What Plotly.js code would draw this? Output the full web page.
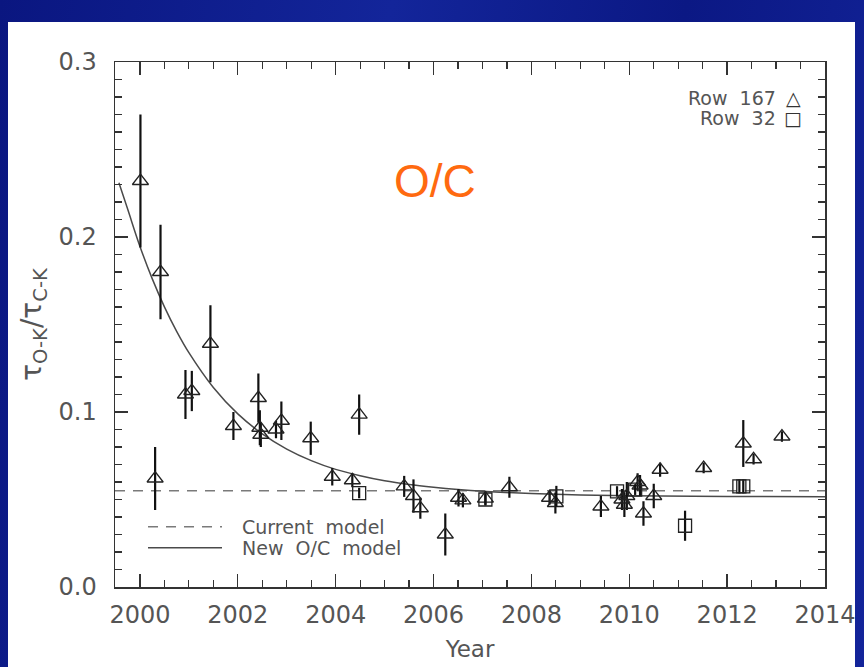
<!DOCTYPE html>
<html><head><meta charset="utf-8">
<script src="https://cdn.plot.ly/plotly-3.0.1.min.js"></script>
<style>
html,body{margin:0;padding:0;width:864px;height:667px;overflow:hidden;
background:linear-gradient(100deg,#0a1680 0%,#13259a 40%,#0b1884 70%,#13249a 100%);}
#panel{position:absolute;left:8px;top:22px;width:847px;height:645px;background:#fff;}
#chart{position:absolute;left:0;top:0;width:864px;height:667px;}
</style></head><body>
<div id="panel"></div><div id="chart"></div>
<script>
// Row 167 (triangles)
var row167Years = [2000.01, 2000.31, 2000.42, 2000.93, 2001.06, 2001.44, 2001.91, 2002.42, 2002.45, 2002.47, 2002.78, 2002.89,
  2003.49, 2003.93, 2004.34, 2004.48, 2005.40, 2005.59, 2005.73, 2006.24, 2006.51, 2006.60, 2007.06, 2007.55,
  2008.37, 2008.49, 2009.42, 2009.85, 2009.90, 2009.95, 2010.17, 2010.22, 2010.29, 2010.50, 2010.63, 2011.52,
  2012.33, 2012.54, 2013.12];
var row167Values = [0.232, 0.062, 0.180, 0.110, 0.112, 0.139, 0.092, 0.108, 0.091, 0.087, 0.090, 0.095,
  0.085, 0.063, 0.061, 0.0985, 0.0575, 0.052, 0.045, 0.030, 0.051, 0.0495, 0.0505, 0.057,
  0.051, 0.048, 0.046, 0.050, 0.047, 0.052, 0.060, 0.058, 0.042, 0.052, 0.067, 0.068,
  0.082, 0.073, 0.086];
var row167Errors = [0.038, 0.018, 0.027, 0.014, 0.0115, 0.022, 0.008, 0.014, 0.010, 0.007, 0.005, 0.011,
  0.0095, 0.005, 0.004, 0.0115, 0.006, 0.0095, 0.006, 0.012, 0.005, 0.004, 0.004, 0.006,
  0.004, 0.006, 0.006, 0.006, 0.007, 0.008, 0.005, 0.006, 0.007, 0.007, 0.004, 0.003,
  0.0134, 0.003, 0.003];
// Row 32 (squares)
var row32Years = [2004.48, 2007.06, 2008.51, 2009.75, 2010.12, 2011.14, 2012.25, 2012.33];
var row32Values = [0.0537, 0.050, 0.0518, 0.0546, 0.0556, 0.035, 0.0575, 0.0575];
var row32Errors = [0.003, 0.003, 0.006, 0.003, 0.003, 0.0086, 0.004, 0.004];
// Models
var currentYears = [1999.49, 2014];
var currentValues = [0.055, 0.055];
var newModelYears = [1999.57, 1999.75, 2000, 2000.25, 2000.5, 2000.75, 2001, 2001.5, 2002, 2002.5, 2003, 2003.5,
  2004, 2004.5, 2005, 2005.5, 2006, 2006.5, 2007, 2008, 2009, 2010, 2012, 2014];
var newModelValues = [0.231, 0.2158, 0.1946, 0.1762, 0.1601, 0.1461, 0.1339, 0.1140, 0.0989, 0.0875, 0.0788, 0.0722,
  0.0672, 0.0636, 0.0607, 0.0586, 0.0570, 0.0557, 0.0547, 0.0534, 0.0526, 0.0521, 0.0517, 0.0516];
var xTickVals = [2000, 2002, 2004, 2006, 2008, 2010, 2012, 2014];
var yTickVals = [0.0, 0.1, 0.2, 0.3];
var yTickText = ['0.0', '0.1', '0.2', '0.3'];

var inkColor = '#222';
var textGray = '#555';
var fontFam = 'DejaVu Sans, Liberation Sans, sans-serif';

var traces = [
  {x: currentYears, y: currentValues, mode: 'lines', name: 'Current model', showlegend: false,
   line: {color: '#7a7a7a', width: 1.6, dash: '10px,8px'}, hoverinfo: 'skip'},
  {x: newModelYears, y: newModelValues, mode: 'lines', name: 'New O/C model', showlegend: false,
   line: {color: '#4a4a4a', width: 1.5, shape: 'spline'}, hoverinfo: 'skip'},
  {x: row167Years, y: row167Values, mode: 'markers', name: 'Row 167', showlegend: false,
   marker: {symbol: 'triangle-up-open', size: 14, color: inkColor, line: {width: 1.3, color: inkColor}},
   error_y: {type: 'data', array: row167Errors, visible: true, color: '#111', thickness: 2.2, width: 0}},
  {x: row32Years, y: row32Values, mode: 'markers', name: 'Row 32', showlegend: false,
   marker: {symbol: 'square-open', size: 13, color: inkColor, line: {width: 1.3, color: inkColor}},
   error_y: {type: 'data', array: row32Errors, visible: true, color: '#111', thickness: 2.2, width: 0}}
];

var axisCommon = {
  showgrid: false, zeroline: false, showline: true, linecolor: '#333', linewidth: 1.5,
  mirror: 'ticks', ticks: 'inside', ticklen: 13, tickwidth: 1.3, tickcolor: '#333',
  tickfont: {family: fontFam, size: 24, color: textGray}
};

var layout = {
  width: 864, height: 667,
  paper_bgcolor: 'rgba(0,0,0,0)', plot_bgcolor: '#fff',
  margin: {l: 115, r: 39, t: 62, b: 80},
  showlegend: false,
  xaxis: Object.assign({}, axisCommon, {
    range: [1999.49, 2014], tickmode: 'array', tickvals: xTickVals,
    ticklabelstandoff: 6,
    minor: {dtick: 0.5, ticks: 'inside', ticklen: 7, tickcolor: '#333', tickwidth: 1.2, showgrid: false},
    title: {text: 'Year', font: {family: fontFam, size: 23, color: textGray}, standoff: 12}
  }),
  yaxis: Object.assign({}, axisCommon, {
    range: [0, 0.3], tickmode: 'array', tickvals: yTickVals, ticktext: yTickText,
    ticklabelstandoff: 12,
    minor: {dtick: 0.01, tick0: 0, ticks: 'inside', ticklen: 7, tickcolor: '#333', tickwidth: 1.2, showgrid: false},
    title: {text: 'τ<sub>O-K</sub>/τ<sub>C-K</sub>', font: {family: fontFam, size: 28, color: textGray}, standoff: 8}
  }),
  shapes: [
    {type: 'line', xref: 'paper', yref: 'paper', x0: 0.0465, x1: 0.1507, y0: 0.1148, y1: 0.1148,
     line: {color: '#7a7a7a', width: 1.6, dash: '10px,8px'}},
    {type: 'line', xref: 'paper', yref: 'paper', x0: 0.0465, x1: 0.1507, y0: 0.0748, y1: 0.0748,
     line: {color: '#4a4a4a', width: 1.5}}
  ],
  annotations: [
    {xref: 'paper', yref: 'paper', x: 0.4507, y: 0.7735, text: 'O/C', showarrow: false,
     xanchor: 'center', yanchor: 'middle', font: {family: 'Liberation Sans, Arial, sans-serif', size: 46, color: '#ff6a10'}},
    {xref: 'paper', yref: 'paper', x: 0.934, y: 0.9315, text: 'Row  167', showarrow: false,
     xanchor: 'right', yanchor: 'middle', font: {family: fontFam, size: 19, color: textGray}},
    {xref: 'paper', yref: 'paper', x: 0.955, y: 0.9315, text: '△', showarrow: false,
     xanchor: 'center', yanchor: 'middle', font: {family: fontFam, size: 19, color: '#333'}},
    {xref: 'paper', yref: 'paper', x: 0.934, y: 0.893, text: 'Row  32', showarrow: false,
     xanchor: 'right', yanchor: 'middle', font: {family: fontFam, size: 19, color: textGray}},
    {xref: 'paper', yref: 'paper', x: 0.955, y: 0.893, text: '□', showarrow: false,
     xanchor: 'center', yanchor: 'middle', font: {family: fontFam, size: 19, color: '#333'}},
    {xref: 'paper', yref: 'paper', x: 0.176, y: 0.1148, text: 'Current  model', showarrow: false,
     xanchor: 'left', yanchor: 'middle', font: {family: fontFam, size: 19, color: textGray}},
    {xref: 'paper', yref: 'paper', x: 0.176, y: 0.0748, text: 'New  O/C  model', showarrow: false,
     xanchor: 'left', yanchor: 'middle', font: {family: fontFam, size: 19, color: textGray}}
  ]
};

Plotly.newPlot('chart', traces, layout, {displayModeBar: false, staticPlot: true});
</script></body></html>
